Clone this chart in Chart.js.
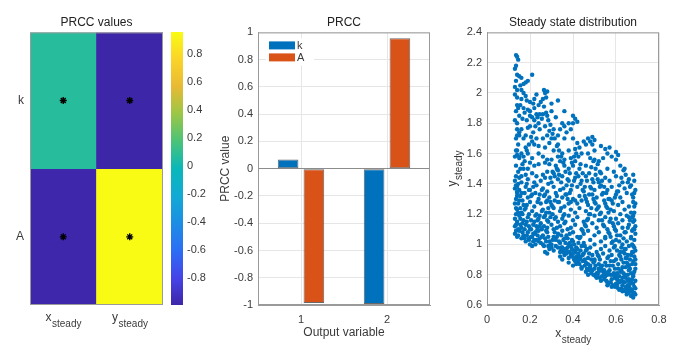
<!DOCTYPE html>
<html>
<head>
<meta charset="utf-8">
<script src="https://cdn.jsdelivr.net/npm/chart.js@4"></script>
<style>
  body { margin: 0; background: #fff; width: 678px; height: 360px; position: relative; overflow: hidden; }
  canvas { position: absolute; top: 0; }
</style>
</head>
<body>
<canvas id="heat" width="170" height="360" style="left:0px"></canvas>
<canvas id="cbar" width="49" height="360" style="left:165px"></canvas>
<canvas id="bars" width="226" height="360" style="left:214px"></canvas>
<canvas id="scat" width="238" height="360" style="left:440px"></canvas>
<script>
// PRCC values (rows = parameters, columns = outputs)
const paramLabels = ['k', 'A'];
const outputLabels = ['x_steady', 'y_steady'];
const outputNumbers = ['1', '2'];
const prccK = [0.068, -0.993];
const prccA = [-0.985, 0.957];

const colorbarTicks = [-0.8, -0.6, -0.4, -0.2, 0, 0.2, 0.4, 0.6, 0.8];
const barTicks = [-1, -0.8, -0.6, -0.4, -0.2, 0, 0.2, 0.4, 0.6, 0.8, 1];
const xSteadyTicks = [0, 0.2, 0.4, 0.6, 0.8];
const ySteadyTicks = [0.6, 0.8, 1, 1.2, 1.4, 1.6, 1.8, 2, 2.2, 2.4];

// steady states, [x_steady, y_steady]
const steadyPoints = [
  [0.135,2.25],[0.14,2.24],[0.145,2.22],[0.135,2.18],[0.13,2.16],[0.14,2.12],[0.15,2.11],[0.16,2.1],[0.21,2.12],[0.18,2.07],
  [0.17,2.06],[0.19,2.08],[0.13,2.04],[0.155,2.05],[0.13,1.99],[0.14,1.97],[0.16,1.96],[0.18,1.98],[0.185,1.95],[0.2,1.94],
  [0.14,1.92],[0.155,1.92],[0.265,2.02],[0.27,2.0],[0.28,2.01],[0.275,1.97],[0.26,1.96],[0.25,1.94],[0.24,1.92],[0.3,1.93],
  [0.33,1.95],[0.22,1.9],[0.17,1.9],[0.19,1.89],[0.2,1.88],[0.23,1.86],[0.26,1.86],[0.28,1.85],[0.3,1.88],[0.36,1.88],
  [0.32,1.84],[0.21,1.84],[0.22,1.82],[0.24,1.8],[0.2,1.78],[0.16,1.76],[0.14,1.76],[0.15,1.72],[0.17,1.7],[0.18,1.72],
  [0.15,1.74],[0.19,1.77],[0.245,1.76],[0.27,1.78],[0.29,1.75],[0.31,1.76],[0.34,1.76],[0.35,1.8],[0.36,1.78],[0.38,1.8],
  [0.4,1.85],[0.41,1.83],[0.4,1.8],[0.42,1.81],[0.39,1.76],[0.37,1.74],[0.33,1.72],[0.3,1.7],[0.28,1.72],[0.26,1.7],
  [0.23,1.7],[0.21,1.68],[0.18,1.64],[0.16,1.6],[0.14,1.59],[0.13,1.58],[0.15,1.57],[0.17,1.58],[0.19,1.6],[0.22,1.66],
  [0.24,1.65],[0.27,1.64],[0.29,1.67],[0.31,1.62],[0.33,1.66],[0.36,1.7],[0.4,1.7],[0.42,1.67],[0.45,1.68],[0.47,1.7],
  [0.49,1.71],[0.48,1.68],[0.5,1.69],[0.49,1.66],[0.46,1.66],[0.43,1.64],[0.41,1.63],[0.38,1.62],[0.35,1.6],[0.33,1.58],
  [0.3,1.56],[0.28,1.56],[0.26,1.58],[0.24,1.6],[0.21,1.57],[0.2,1.54],[0.17,1.5],[0.19,1.5],[0.22,1.52],[0.24,1.53],
  [0.27,1.54],[0.29,1.53],[0.32,1.52],[0.34,1.55],[0.36,1.56],[0.39,1.57],[0.41,1.55],[0.44,1.6],[0.47,1.6],[0.5,1.62],
  [0.53,1.65],[0.55,1.63],[0.57,1.64],[0.56,1.6],[0.6,1.61],[0.61,1.59],[0.6,1.56],[0.58,1.58],[0.54,1.57],[0.52,1.55],
  [0.5,1.56],[0.48,1.57],[0.46,1.52],[0.43,1.5],[0.4,1.52],[0.38,1.5],[0.36,1.52],[0.33,1.49],[0.31,1.47],[0.28,1.48],
  [0.26,1.46],[0.23,1.45],[0.21,1.47],[0.18,1.46],[0.15,1.44],[0.16,1.45],
  [0.13,1.42],[0.14,1.38],[0.16,1.41],[0.19,1.43],[0.22,1.41],[0.25,1.42],[0.27,1.44],[0.3,1.41],[0.33,1.43],[0.35,1.45],
  [0.38,1.42],[0.41,1.44],[0.44,1.42],[0.46,1.45],[0.49,1.43],[0.52,1.41],[0.55,1.44],[0.57,1.42],[0.6,1.45],[0.63,1.41],
  [0.66,1.43],[0.68,1.46],[0.64,1.5],[0.62,1.52],[0.59,1.48],[0.56,1.5],[0.53,1.47],
  [0.13,1.37],[0.15,1.36],[0.18,1.38],[0.2,1.36],[0.23,1.39],[0.26,1.37],[0.28,1.35],[0.31,1.38],[0.34,1.36],[0.37,1.39],
  [0.39,1.36],[0.42,1.38],[0.45,1.35],[0.48,1.38],[0.5,1.36],[0.53,1.39],[0.56,1.36],[0.58,1.38],[0.61,1.35],[0.64,1.37],
  [0.67,1.39],[0.69,1.36],
  [0.14,1.32],[0.16,1.34],[0.19,1.31],[0.21,1.33],[0.24,1.3],[0.27,1.33],[0.29,1.31],[0.32,1.34],[0.35,1.31],[0.37,1.33],
  [0.4,1.3],[0.41,1.29],[0.43,1.32],[0.46,1.3],[0.49,1.33],[0.51,1.31],[0.54,1.34],[0.57,1.3],[0.6,1.33],[0.62,1.31],
  [0.65,1.34],[0.68,1.31],[0.39,1.28],[0.42,1.27],
  [0.13,1.27],[0.15,1.29],[0.17,1.26],[0.2,1.28],[0.22,1.25],[0.25,1.27],[0.28,1.29],[0.3,1.26],[0.33,1.28],[0.36,1.25],
  [0.38,1.27],[0.44,1.29],[0.47,1.26],[0.5,1.28],[0.52,1.25],[0.55,1.27],[0.58,1.29],[0.61,1.26],[0.63,1.28],[0.66,1.25],
  [0.69,1.27],
  [0.14,1.23],[0.16,1.21],[0.18,1.24],[0.21,1.22],[0.23,1.2],[0.26,1.23],[0.29,1.21],[0.31,1.24],[0.34,1.22],[0.36,1.2],
  [0.39,1.23],[0.41,1.21],[0.43,1.24],[0.46,1.22],[0.48,1.2],[0.51,1.23],[0.53,1.21],[0.56,1.24],[0.59,1.22],[0.62,1.2],
  [0.64,1.23],[0.67,1.21],[0.68,1.19],[0.66,1.18],
  [0.13,1.17],[0.15,1.19],[0.17,1.16],[0.19,1.18],[0.22,1.15],[0.24,1.17],[0.27,1.19],[0.28,1.16],[0.32,1.18],[0.33,1.15],
  [0.35,1.17],[0.38,1.19],[0.4,1.16],[0.42,1.18],[0.45,1.15],[0.47,1.17],[0.5,1.19],[0.52,1.16],[0.55,1.18],[0.57,1.15],
  [0.6,1.17],[0.63,1.16],[0.65,1.19],[0.68,1.15],
  [0.13,1.12],[0.14,1.14],[0.16,1.11],[0.18,1.13],[0.2,1.1],[0.23,1.12],[0.25,1.14],[0.28,1.11],[0.3,1.13],[0.31,1.1],
  [0.34,1.12],[0.36,1.14],[0.39,1.11],[0.41,1.13],[0.44,1.1],[0.46,1.12],[0.49,1.14],[0.51,1.11],[0.54,1.13],[0.56,1.1],
  [0.59,1.12],[0.61,1.14],[0.63,1.11],[0.66,1.13],[0.69,1.12],[0.68,1.1],
  [0.13,1.07],[0.14,1.05],[0.15,1.09],[0.17,1.06],[0.19,1.08],[0.21,1.05],[0.22,1.07],[0.24,1.09],[0.26,1.06],[0.28,1.08],
  [0.31,1.05],[0.33,1.07],[0.35,1.09],[0.37,1.06],[0.4,1.08],[0.42,1.05],[0.45,1.07],[0.47,1.09],[0.5,1.06],[0.52,1.08],
  [0.55,1.05],[0.57,1.07],[0.6,1.09],[0.62,1.06],[0.64,1.08],[0.67,1.05],[0.69,1.07],
  [0.16,1.04],[0.18,1.02],[0.2,1.0],[0.21,0.99],[0.22,1.03],[0.25,1.01],[0.27,1.04],[0.29,1.02],[0.3,1.0],[0.32,1.03],
  [0.34,1.01],[0.36,1.04],[0.38,1.0],[0.4,1.02],[0.43,1.04],[0.45,1.01],[0.48,1.03],[0.5,1.0],[0.53,1.02],[0.55,1.04],
  [0.58,1.01],[0.6,1.03],[0.63,1.0],[0.65,1.02],[0.67,1.04],[0.69,0.96],[0.68,0.99],
  [0.27,0.95],[0.28,0.94],[0.29,0.97],[0.31,0.96],[0.32,0.99],[0.34,0.95],[0.35,0.98],[0.37,0.96],[0.39,0.99],[0.41,0.95],
  [0.42,0.97],[0.44,0.99],[0.46,0.96],[0.48,0.98],[0.51,0.95],[0.53,0.97],[0.55,0.99],[0.57,0.96],[0.59,0.98],[0.62,0.95],
  [0.64,0.97],[0.66,0.99],[0.68,0.95],
  [0.34,0.92],[0.35,0.9],[0.36,0.93],[0.38,0.91],[0.4,0.94],[0.42,0.9],[0.43,0.92],[0.45,0.94],[0.47,0.91],[0.49,0.93],
  [0.5,0.9],[0.52,0.92],[0.54,0.94],[0.56,0.91],[0.58,0.93],[0.6,0.9],[0.62,0.92],[0.64,0.94],[0.65,0.91],[0.67,0.93],
  [0.69,0.9],
  [0.38,0.88],[0.4,0.86],[0.41,0.89],[0.43,0.87],[0.44,0.85],[0.46,0.88],[0.48,0.86],[0.5,0.89],[0.52,0.87],[0.53,0.85],
  [0.55,0.88],[0.57,0.86],[0.59,0.89],[0.61,0.87],[0.63,0.85],[0.65,0.88],[0.66,0.86],[0.68,0.89],[0.69,0.87],
  [0.44,0.84],[0.46,0.82],[0.47,0.8],[0.49,0.83],[0.51,0.81],[0.52,0.84],[0.54,0.82],[0.56,0.8],[0.57,0.83],[0.59,0.81],
  [0.61,0.84],[0.62,0.82],[0.64,0.8],[0.66,0.83],[0.67,0.81],[0.69,0.84],
  [0.51,0.78],[0.53,0.76],[0.55,0.79],[0.56,0.75],[0.58,0.77],[0.6,0.79],[0.61,0.76],[0.63,0.78],[0.64,0.75],[0.66,0.77],
  [0.68,0.79],[0.69,0.76],
  [0.56,0.73],[0.58,0.72],[0.6,0.74],[0.61,0.71],[0.63,0.73],[0.65,0.7],[0.66,0.72],[0.68,0.74],[0.69,0.71],
  [0.63,0.69],[0.65,0.67],[0.66,0.68],[0.67,0.66],[0.68,0.65],[0.68,0.68],[0.69,0.67],[0.67,0.69],
  [0.145,1.1],[0.155,1.13],[0.165,1.08],[0.175,1.04],[0.185,1.06],[0.195,1.03],[0.205,1.05],[0.215,1.02],[0.225,1.0],[0.235,1.06],
  [0.245,1.04],[0.255,1.1],[0.265,1.12],[0.275,1.09],[0.285,1.15],[0.295,1.18],[0.305,1.2],[0.315,1.17],[0.325,1.11],[0.345,1.06],
  [0.355,1.03],[0.365,1.01],[0.375,0.98],[0.385,0.95],[0.395,0.92],[0.405,0.9],[0.415,0.87],[0.425,0.88],[0.435,0.91],[0.455,0.86],
  [0.465,0.84],[0.475,0.83],[0.485,0.81],[0.495,0.8],[0.505,0.79],[0.515,0.8],[0.525,0.78],[0.535,0.79],[0.545,0.77],[0.555,0.76],
  [0.565,0.74],[0.575,0.75],[0.585,0.73],[0.595,0.72],[0.605,0.73],[0.615,0.7],[0.625,0.71],[0.635,0.7],[0.645,0.69],[0.655,0.7],
  [0.675,0.7],[0.685,0.72],[0.675,0.77],[0.655,0.8],[0.645,0.85],[0.635,0.88],[0.625,0.9],[0.615,0.93],[0.605,0.96],[0.595,0.99],
  [0.585,1.02],[0.575,1.05],[0.565,1.08],[0.545,1.12],[0.535,1.16],[0.525,1.2],[0.515,1.24],[0.505,1.27],[0.495,1.3],[0.485,1.24],
  [0.475,1.2],[0.465,1.16],[0.455,1.13],[0.445,1.09],[0.435,1.05],[0.425,1.01],[0.415,0.98],[0.405,0.96],[0.395,1.03],[0.385,1.07],
  [0.375,1.1],[0.365,1.15],[0.355,1.19],[0.345,1.24],[0.335,1.28],[0.325,1.32],[0.315,1.29],[0.305,1.25],[0.295,1.28],[0.285,1.24],
  [0.275,1.21],[0.265,1.18],[0.255,1.22],[0.245,1.19],[0.235,1.16],[0.225,1.19],[0.215,1.13],[0.205,1.16],[0.195,1.2],[0.185,1.26],
  [0.175,1.23],[0.165,1.2],[0.155,1.24],[0.145,1.27],[0.135,1.3],[0.135,1.2],[0.14,1.15],[0.14,1.35],[0.145,1.4],[0.155,1.32],
  [0.165,1.29],[0.175,1.34],[0.185,1.4],[0.195,1.36],[0.205,1.32],[0.215,1.38],[0.225,1.34],[0.235,1.28],[0.245,1.33],[0.255,1.36],
  [0.265,1.32],[0.275,1.28],[0.285,1.4],[0.295,1.44],[0.305,1.48],[0.315,1.45],[0.325,1.5],[0.335,1.46],[0.345,1.41],[0.355,1.37],
  [0.365,1.33],[0.375,1.3],[0.385,1.34],[0.395,1.39],[0.405,1.42],[0.415,1.47],[0.425,1.45],[0.435,1.4],[0.445,1.36],[0.455,1.32],
  [0.465,1.28],[0.475,1.33],[0.485,1.37],[0.495,1.41],[0.505,1.46],[0.515,1.43],[0.525,1.38],[0.535,1.33],[0.545,1.29],[0.555,1.25],
  [0.565,1.21],[0.575,1.17],[0.585,1.14],[0.595,1.1],[0.605,1.06],[0.615,1.02],[0.625,0.98],[0.635,0.95],[0.645,0.97],[0.655,0.93],
  [0.665,0.9],[0.675,0.87],[0.685,0.82],[0.665,0.84],[0.655,0.87],[0.645,0.91],[0.635,1.04],[0.645,1.08],[0.655,1.11],[0.665,1.16],
  [0.675,1.18],[0.685,1.21],[0.68,1.28],[0.675,1.33],[0.665,1.38],[0.655,1.41],[0.645,1.46],[0.635,1.49],[0.625,1.44],[0.615,1.39],
  [0.605,1.35],[0.595,1.31],[0.585,1.27],[0.575,1.23],[0.565,1.3],[0.555,1.34],[0.545,1.38],[0.535,1.42],[0.525,1.48],[0.515,1.53],
  [0.505,1.5],[0.495,1.55],[0.485,1.51],[0.475,1.47],[0.465,1.42],[0.455,1.38],[0.445,1.47],[0.435,1.53],[0.425,1.58],[0.415,1.6],
  [0.405,1.58],[0.395,1.54],[0.385,1.47],[0.375,1.43],[0.365,1.48],[0.355,1.54],[0.345,1.58],[0.335,1.62],[0.325,1.65],[0.315,1.7],
  [0.305,1.73],[0.295,1.79],[0.285,1.82],[0.275,1.87],[0.265,1.91],[0.255,1.83],[0.245,1.86],[0.235,1.84],[0.225,1.78],[0.215,1.74],
  [0.205,1.71],[0.195,1.66],[0.185,1.62],[0.175,1.55],[0.165,1.53],[0.155,1.5],[0.145,1.48],[0.135,1.45],[0.135,1.52],[0.14,1.62],
  [0.145,1.66],[0.135,1.7],[0.14,1.8],[0.15,1.85],[0.135,1.88],[0.165,1.83],[0.175,1.87],[0.185,1.82],[0.2,1.85],[0.215,1.93],
  [0.17,2.0],[0.16,2.02],[0.22,1.96],[0.23,1.99],
  [0.665,0.74],[0.655,0.76],[0.645,0.78],[0.635,0.81],[0.625,0.83],[0.615,0.79],[0.605,0.81],[0.595,0.84],[0.585,0.86],[0.575,0.89],
  [0.565,0.92],[0.555,0.86],[0.545,0.83],[0.535,0.86],[0.525,0.9],[0.515,0.93],[0.505,0.86],[0.495,0.88],[0.485,0.9],[0.475,0.94],
  [0.465,0.97],[0.455,0.99],[0.445,0.93],[0.435,0.96],[0.425,0.94],[0.415,0.92],[0.405,1.0],[0.395,0.97],[0.385,1.01],[0.375,1.04],
  [0.365,0.97],[0.355,0.95],[0.345,0.98],[0.335,1.02],[0.325,1.05],[0.315,1.08],[0.305,1.03],[0.295,1.0],[0.285,1.05],[0.275,1.02],
  [0.265,0.99],[0.255,1.05],[0.245,1.12],[0.235,1.1],[0.225,1.08],[0.215,1.07],[0.205,1.1],[0.195,1.12],[0.185,1.15],[0.175,1.1],
  [0.165,1.14],[0.155,1.17],[0.145,1.21],[0.135,1.24],[0.135,1.13],[0.145,1.06],[0.135,1.09],[0.14,1.34],[0.135,1.39],[0.15,1.58],
  [0.135,1.62],[0.14,1.72],[0.13,1.82],[0.145,1.9],[0.14,2.02],[0.135,2.08],[0.685,0.92],[0.685,0.98],[0.685,1.03],[0.685,1.1],
  [0.685,1.16],[0.685,1.25],[0.685,1.34],[0.685,1.42],[0.675,0.95],[0.675,1.0],[0.675,1.09],[0.67,0.76],[0.68,0.8],[0.685,0.68],
  [0.675,0.66],[0.665,0.71],[0.655,0.73],[0.645,0.72],[0.635,0.75],[0.625,0.76],[0.615,0.75],[0.605,0.77],[0.595,0.78],[0.585,0.8],
  [0.575,0.8],[0.565,0.82],[0.555,0.81],[0.545,0.8],[0.535,0.83],[0.52,0.82],[0.5,0.84],[0.48,0.85],[0.47,0.87],[0.455,0.9],
  [0.445,0.89],[0.43,0.9],[0.42,0.92],[0.41,0.91],[0.39,0.93],[0.37,0.94],[0.36,0.96],[0.345,0.97],[0.33,0.98],[0.3,0.98],
  [0.285,0.99],[0.26,1.0],[0.24,1.02],[0.23,1.03],[0.195,1.04],[0.17,1.05]
];

const FONT = '"Liberation Sans", Arial, sans-serif';
const TEXT = '#3a3a3a';
const GRID = '#e6e6e6';
const BOX = '#9a9a9a';
Chart.defaults.font.family = FONT;
Chart.defaults.font.size = 11;
Chart.defaults.color = TEXT;

// rough parula colormap
const parulaStops = [
  [0.0, [62, 38, 168]], [0.1, [70, 68, 232]], [0.2, [44, 110, 245]], [0.3, [28, 142, 228]],
  [0.4, [18, 170, 212]], [0.5, [10, 183, 185]], [0.6, [75, 195, 120]], [0.7, [155, 198, 70]],
  [0.8, [232, 186, 52]], [0.9, [250, 212, 40]], [1.0, [249, 251, 20]]
];
const allPrcc = prccK.concat(prccA);
const cMin = Math.min(...allPrcc), cMax = Math.max(...allPrcc);
function parula(v) {
  const t = Math.max(0, Math.min(1, (v - cMin) / (cMax - cMin)));
  for (let i = 1; i < parulaStops.length; i++) {
    const [t1, c1] = parulaStops[i], [t0, c0] = parulaStops[i - 1];
    if (t <= t1) {
      const f = (t - t0) / (t1 - t0);
      return 'rgb(' + c0.map((c, j) => Math.round(c + (c1[j] - c) * f)).join(',') + ')';
    }
  }
  return 'rgb(249,251,20)';
}

function drawSub(ctx, label, x, y, rot, big, small) {
  const [base, sub] = label.split('_');
  ctx.save();
  ctx.translate(x, y);
  ctx.rotate(rot);
  ctx.fillStyle = TEXT;
  ctx.textBaseline = 'middle';
  ctx.textAlign = 'left';
  ctx.font = big + 'px ' + FONT;
  const wb = ctx.measureText(base).width;
  ctx.font = small + 'px ' + FONT;
  const ws = ctx.measureText(sub).width;
  const sx = -(wb + ws) / 2;
  ctx.font = big + 'px ' + FONT;
  ctx.fillText(base, sx, 0);
  ctx.font = small + 'px ' + FONT;
  ctx.fillText(sub, sx + wb + 0.5, 6);
  ctx.restore();
}

const boxPlugin = {
  id: 'box',
  afterDraw(chart) {
    const { ctx, chartArea: a } = chart;
    ctx.save();
    ctx.strokeStyle = BOX;
    ctx.lineWidth = 1;
    ctx.strokeRect(a.left + 0.5, a.top + 0.5, a.right - a.left - 1, a.bottom - a.top - 1);
    ctx.restore();
  }
};

const titleOpts = (text) => ({
  display: true, text: text, fullSize: false, color: '#222',
  font: { size: 12, weight: 'normal' }, padding: { top: 15, bottom: 3 }
});
const fmt = (v) => String(Math.round(v * 10) / 10 + 0);

// Heatmap of PRCC values
const nRows = paramLabels.length;
const heatRows = [prccK, prccA];
const heatSets = heatRows.map((vals, r) => ({
  type: 'bar',
  data: outputLabels.map(() => [nRows - r - 1, nRows - r]),
  backgroundColor: vals.map(parula),
  grouped: false, barPercentage: 1, categoryPercentage: 1, borderWidth: 0, order: 1
}));
const starSets = heatRows.map((vals, r) => ({
  type: 'line',
  data: outputLabels.map(() => nRows - r - 0.5),
  showLine: false, pointStyle: 'star', pointRadius: 3.5, order: -1,
  pointBorderWidth: 1.4, borderColor: '#000', backgroundColor: '#000'
}));

new Chart(document.getElementById('heat'), {
  type: 'bar',
  data: { labels: outputLabels, datasets: heatSets.concat(starSets) },
  options: {
    responsive: false, animation: false,
    layout: { padding: { right: 7 } },
    plugins: { legend: { display: false }, tooltip: { enabled: false }, title: titleOpts('PRCC values') },
    scales: {
      x: { grid: { display: false, drawTicks: false }, border: { display: false }, ticks: { display: false },
           afterFit(s) { s.height = 55; } },
      y: { min: 0, max: nRows, grid: { display: false, drawTicks: false }, border: { display: false },
           afterBuildTicks(s) { s.ticks = paramLabels.map((p, r) => ({ value: nRows - r - 0.5 })); },
           ticks: { padding: 6, font: { size: 12 }, callback: (v) => paramLabels[Math.round(nRows - 0.5 - v)] },
           afterFit(s) { s.width = 30; } }
    }
  },
  plugins: [boxPlugin, {
    id: 'subTicks',
    afterDraw(chart) {
      const s = chart.scales.x;
      outputLabels.forEach((lab, i) => drawSub(chart.ctx, lab, s.getPixelForValue(i), 318, 0, 12, 10));
    }
  }]
});

// Colorbar
new Chart(document.getElementById('cbar'), {
  type: 'bar',
  data: {
    labels: [''],
    datasets: [{
      data: [[cMin, cMax]], barPercentage: 1, categoryPercentage: 1, borderWidth: 0,
      backgroundColor(c) {
        const a = c.chart.chartArea;
        if (!a) return null;
        const g = c.chart.ctx.createLinearGradient(0, a.bottom, 0, a.top);
        parulaStops.forEach(([t, rgb]) => g.addColorStop(t, 'rgb(' + rgb.join(',') + ')'));
        return g;
      }
    }]
  },
  options: {
    responsive: false, animation: false,
    layout: { padding: { left: 6, top: 32, bottom: 55 } },
    plugins: { legend: { display: false }, tooltip: { enabled: false } },
    scales: {
      x: { display: false },
      y: { position: 'right', min: cMin, max: cMax, grid: { display: false, drawTicks: false }, border: { display: false },
           afterBuildTicks(s) { s.ticks = colorbarTicks.map(v => ({ value: v })); },
           ticks: { padding: 4, callback: fmt },
           afterFit(s) { s.width = 31; } }
    }
  }
});

// Bar chart of PRCC per output
new Chart(document.getElementById('bars'), {
  type: 'bar',
  data: {
    labels: outputNumbers,
    datasets: [
      { label: 'k', data: prccK, backgroundColor: '#0072BD' },
      { label: 'A', data: prccA, backgroundColor: '#D95319' }
    ]
  },
  options: {
    responsive: false, animation: false,
    categoryPercentage: 0.6, barPercentage: 0.8,
    borderWidth: 1, borderColor: 'rgba(40,40,40,0.7)', borderSkipped: false,
    layout: { padding: { right: 10 } },
    plugins: { legend: { display: false }, tooltip: { enabled: false }, title: titleOpts('PRCC') },
    scales: {
      x: { grid: { color: GRID, offset: false, drawTicks: false }, border: { color: BOX },
           ticks: { padding: 8 },
           title: { display: true, text: 'Output variable', font: { size: 12 }, padding: { top: 0, bottom: 20 } },
           afterFit(s) { s.height = 55; } },
      y: { min: -1, max: 1,
           grid: { color: (c) => c.tick && c.tick.value === 0 ? '#8c8c8c' : GRID, drawTicks: false },
           border: { color: BOX },
           afterBuildTicks(s) { s.ticks = barTicks.map(v => ({ value: v })); },
           ticks: { padding: 5, callback: fmt },
           title: { display: true, text: 'PRCC value', font: { size: 12 } },
           afterFit(s) { s.width = 44; } }
    }
  },
  plugins: [boxPlugin, {
    id: 'barLegend',
    afterDraw(chart) {
      const ctx = chart.ctx, a = chart.chartArea;
      const x0 = a.left + 11, y0 = a.top + 9;
      ctx.save();
      ctx.fillStyle = '#fff';
      ctx.fillRect(x0 - 3, y0 - 3, 48, 27);
      chart.data.datasets.forEach((d, i) => {
        ctx.fillStyle = d.backgroundColor;
        ctx.fillRect(x0, y0 + i * 12, 26, 8);
        ctx.fillStyle = TEXT;
        ctx.font = '11px ' + FONT;
        ctx.textBaseline = 'middle';
        ctx.fillText(d.label, x0 + 28, y0 + i * 12 + 4.5);
      });
      ctx.restore();
    }
  }]
});

// Steady state scatter
new Chart(document.getElementById('scat'), {
  type: 'scatter',
  data: {
    datasets: [{
      data: steadyPoints.map(p => ({ x: p[0], y: p[1] })),
      backgroundColor: '#0072BD', borderWidth: 0, pointRadius: 2.2
    }]
  },
  options: {
    responsive: false, animation: false,
    layout: { padding: { right: 19 } },
    plugins: { legend: { display: false }, tooltip: { enabled: false }, title: titleOpts('Steady state distribution') },
    scales: {
      x: { min: 0, max: 0.8, grid: { color: GRID, drawTicks: false }, border: { color: BOX },
           afterBuildTicks(s) { s.ticks = xSteadyTicks.map(v => ({ value: v })); },
           ticks: { padding: 8, callback: fmt },
           afterFit(s) { s.height = 55; } },
      y: { min: 0.6, max: 2.4, grid: { color: GRID, drawTicks: false }, border: { color: BOX },
           afterBuildTicks(s) { s.ticks = ySteadyTicks.map(v => ({ value: v })); },
           ticks: { padding: 5, callback: fmt },
           afterFit(s) { s.width = 47; } }
    }
  },
  plugins: [boxPlugin, {
    id: 'axisTitles',
    afterDraw(chart) {
      const a = chart.chartArea;
      drawSub(chart.ctx, 'x_steady', (a.left + a.right) / 2, 334, 0, 12, 10);
      drawSub(chart.ctx, 'y_steady', 13, (a.top + a.bottom) / 2, -Math.PI / 2, 12, 10);
    }
  }]
});
</script>
</body>
</html>
